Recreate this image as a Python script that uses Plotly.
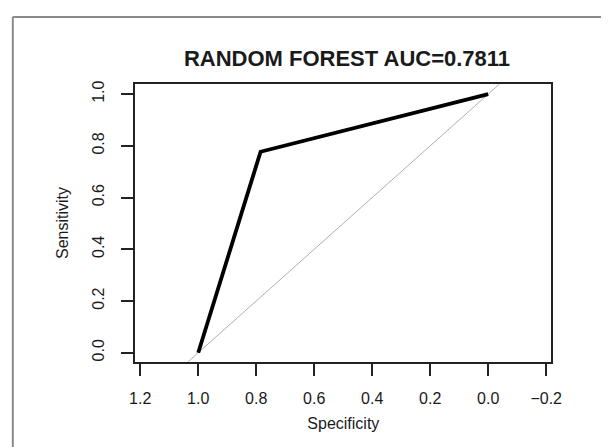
import plotly.graph_objects as go

# ROC curve data (specificity, sensitivity)
specificity = [1.0, 0.785, 0.0]
sensitivity = [0.0, 0.777, 1.0]

x_ticks = [1.2, 1.0, 0.8, 0.6, 0.4, 0.2, 0.0, -0.2]
x_tick_labels = ["1.2", "1.0", "0.8", "0.6", "0.4", "0.2", "0.0", "\u22120.2"]
y_ticks = [0.0, 0.2, 0.4, 0.6, 0.8, 1.0]
y_tick_labels = ["0.0", "0.2", "0.4", "0.6", "0.8", "1.0"]

x_range = [1.217, -0.218]
y_range = [-0.035, 1.038]

title_text = "RANDOM FOREST AUC=0.7811"
x_title = "Specificity"
y_title = "Sensitivity"

W, H = 612, 447
FONT = "Liberation Sans, Arial, sans-serif"
TXT = "#1a1a1a"

fig = go.Figure()

# chance diagonal
diag_x = list(x_range)
diag_y = [1 - v for v in diag_x]
fig.add_trace(go.Scatter(x=diag_x, y=diag_y, mode="lines",
                         line=dict(color="#b0b0b0", width=1),
                         hoverinfo="skip", showlegend=False))
# ROC curve
fig.add_trace(go.Scatter(x=specificity, y=sensitivity, mode="lines",
                         line=dict(color="black", width=3.8),
                         showlegend=False))

x0, x1 = 133 / W, 561 / W
y0, y1 = (H - 361) / H, (H - 81) / H

fig.update_layout(
    width=W, height=H,
    margin=dict(l=0, r=0, t=0, b=0),
    paper_bgcolor="white", plot_bgcolor="white",
    font=dict(family=FONT, color=TXT, size=16),
    title=dict(text="<b>" + title_text + "</b>", x=347 / W, xanchor="center",
               y=(H - 58) / H, yanchor="middle",
               font=dict(family=FONT, size=22, color=TXT)),
    xaxis=dict(domain=[x0, x1], range=x_range, showgrid=False, zeroline=False,
               showline=True, mirror=True, linecolor="#222", linewidth=1.5,
               ticks="outside", ticklen=12, tickwidth=1.5, tickcolor="#222",
               tickvals=x_ticks, ticktext=x_tick_labels,
               tickfont=dict(size=16), ticklabelstandoff=9,
               title=dict(text=x_title, font=dict(size=16), standoff=12)),
    yaxis=dict(domain=[y0, y1], range=y_range, showgrid=False, zeroline=False,
               showline=True, mirror=True, linecolor="#222", linewidth=1.5,
               ticks="outside", ticklen=13, tickwidth=1.5, tickcolor="#222",
               tickvals=y_ticks, ticktext=y_tick_labels, tickangle=-90,
               tickfont=dict(size=16), ticklabelstandoff=10,
               title=dict(text=y_title, font=dict(size=16), standoff=18)),
    shapes=[
        dict(type="line", xref="paper", yref="paper",
             x0=7 / W, x1=7 / W, y0=0, y1=(H - 13) / H,
             line=dict(color="#8a8a8a", width=2)),
        dict(type="line", xref="paper", yref="paper",
             x0=7 / W, x1=1, y0=(H - 13) / H, y1=(H - 13) / H,
             line=dict(color="#8a8a8a", width=2)),
    ],
)

fig.write_html("out.html")
